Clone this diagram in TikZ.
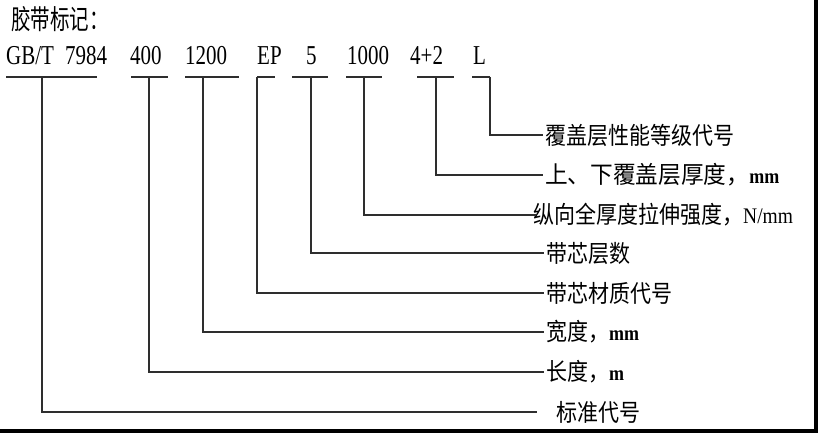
\documentclass[tikz,border=0pt]{standalone}
\usepackage{fontspec}
\setmainfont{Liberation Serif}
\newfontfamily\cjk{Noto Sans CJK SC}
\newcommand\ysc[2]{\scalebox{1}[#1]{#2}}
\newcommand\unitmm[1]{{\rmfamily\bfseries\fontsize{18}{18}\selectfont\ysc{1.15}{#1}}}
\begin{document}
\begin{tikzpicture}[x=1pt,y=-1pt,
  ln/.style={draw=black!82, line width=1.6pt},
  toplab/.style={anchor=base west, inner sep=0pt, font=\fontsize{21}{21}\selectfont},
  lab/.style={anchor=west, inner sep=0pt, font=\cjk\fontsize{21}{21}\selectfont}
]
\useasboundingbox (0,0) rectangle (818,433);
\fill[white] (0,0) rectangle (818,433);
\fill[black] (814,0) rectangle (818,433);
\fill[black] (0,429) rectangle (818,433);

% title
\node[anchor=west, inner sep=0pt, font=\cjk\fontsize{19.5}{19.5}\selectfont] (title) at (11,19) {\ysc{1.4}{胶带标记：}};

% top code parts
\node[toplab] (gb)   at (6,65)   {\ysc{1.3}{GB/T\hspace{11pt}7984}};
\node[toplab] (w400) at (130,65) {\ysc{1.3}{400}};
\node[toplab] (w1200) at (185,65) {\ysc{1.3}{1200}};
\node[toplab] (ep)   at (257,65) {\ysc{1.3}{EP}};
\node[toplab] (n5)   at (306,65) {\ysc{1.3}{5}};
\node[toplab] (s1000) at (347,65) {\ysc{1.3}{1000}};
\node[toplab] (c42)  at (410,65) {\ysc{1.3}{4+2}};
\node[toplab] (gl)   at (473,65) {\ysc{1.3}{L}};

% underlines
\draw[ln] (6,77) -- (97,77);
\draw[ln] (131,77) -- (168,77);
\draw[ln] (185,77) -- (239,77);
\draw[ln] (257,77) -- (275,77);
\draw[ln] (292,77) -- (328,77);
\draw[ln] (346,77) -- (382,77);
\draw[ln] (417,77) -- (454,77);
\draw[ln] (472,77) -- (490,77);

\coordinate (ugb) at (42,77);
\coordinate (u400) at (149,77);
\coordinate (u1200) at (203,77);
\coordinate (uep) at (257,77);
\coordinate (u5) at (311,77);
\coordinate (u1000) at (364,77);
\coordinate (u42) at (436,77);
\coordinate (ul) at (490,77);

% explanations
\node[lab] (lL)    at (545,135) {\ysc{1.14}{覆盖层性能等级代号}};
\node[lab] (l42)   at (545,175) {\ysc{1.14}{\scalebox{1.08}[1]{上、下覆盖层厚度，}}\unitmm{mm}};
\node[lab] (l1000) at (533,215) {\ysc{1.14}{纵向全厚度拉伸强度，{\rmfamily\fontsize{19.5}{19.5}\selectfont N/mm}}};
\node[lab] (l5)    at (546,253) {\ysc{1.14}{带芯层数}};
\node[lab] (lep)   at (546,293) {\ysc{1.14}{带芯材质代号}};
\node[lab] (l1200) at (546,332) {\ysc{1.14}{宽度，}\unitmm{mm}};
\node[lab] (l400)  at (546,372) {\ysc{1.14}{长度，}\unitmm{m}};
\node[lab] (lgb)   at (556,412) {\ysc{1.14}{标准代号}};

% connectors
\draw[ln] (ul) |- ([xshift=-2pt]lL.west);
\draw[ln] (u42) |- ([xshift=-2pt]l42.west);
\draw[ln] (u1000) |- ([xshift=3pt]l1000.west);
\draw[ln] (u5) |- ([xshift=-2pt]l5.west);
\draw[ln] (uep) |- ([xshift=-2pt]lep.west);
\draw[ln] (u1200) |- ([xshift=-2pt]l1200.west);
\draw[ln] (u400) |- ([xshift=-2pt]l400.west);
\draw[ln] (ugb) |- ([xshift=-19pt]lgb.west);
\end{tikzpicture}
\end{document}
